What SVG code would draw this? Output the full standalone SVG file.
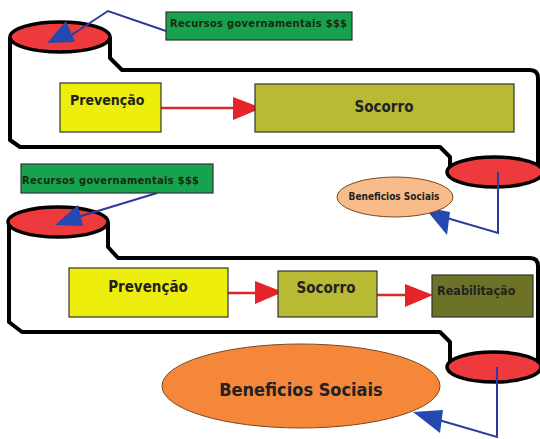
<svg xmlns="http://www.w3.org/2000/svg" width="540" height="439" viewBox="0 0 540 439">
<style>
.pipe{fill:none;stroke:#000;stroke-width:4;stroke-linejoin:round}
.tank{fill:#ee3a3c;stroke:#000;stroke-width:3.5}
.blue{fill:none;stroke:#2b3a9c;stroke-width:2}
.bhead{fill:#2449b0}
.red{fill:none;stroke:#d92a2a;stroke-width:2.5}
.rhead{fill:#e5242a}
.box{stroke:#333;stroke-width:1.2}
.t{font-family:"DejaVu Sans Condensed","DejaVu Sans",Verdana,sans-serif;font-weight:bold;fill:#222}
</style>
<rect width="540" height="439" fill="#fff"/>
<g id="connectors">
  <path class="pipe" d="M10,37 V140 L20,147 H440 L450,157 V172"/>
  <path class="pipe" d="M110,37 V58 L122,70 H530 Q538,70 538,78 V172"/>
  <path class="pipe" d="M9,222 V322 L22,332 H440 L450,342 V367"/>
  <path class="pipe" d="M108,222 V247 L118,258 H530 Q538,258 538,266 V367"/>
  <path class="red" d="M161,108 H236"/>
  <polygon class="rhead" points="233,97 262,108 233,120"/>
  <path class="red" d="M228,293 H258"/>
  <polygon class="rhead" points="255,281 283,292 255,304"/>
  <path class="red" d="M377,295 H408"/>
  <polygon class="rhead" points="405,284 433,295 405,307"/>
</g>
<g id="tank1"><ellipse class="tank" cx="60" cy="37" rx="50" ry="15"/></g>
<g id="tank2"><ellipse class="tank" cx="495" cy="172" rx="48" ry="15"/></g>
<g id="tank3"><ellipse class="tank" cx="58" cy="222" rx="50" ry="15"/></g>
<g id="tank4"><ellipse class="tank" cx="494" cy="367" rx="47" ry="15"/></g>
<g id="blue-arrows">
  <path class="blue" d="M166,31 L108,11 L70,36"/>
  <polygon class="bhead" points="66,21 47,43 75,42"/>
  <path class="blue" d="M498,172 V233 L440,216"/>
  <polygon class="bhead" points="424,207 450,212 447,235"/>
  <path class="blue" d="M157,193 L78,217"/>
  <polygon class="bhead" points="78,205 55,225 83,226"/>
  <path class="blue" d="M497,367 V437 L432,418"/>
  <polygon class="bhead" points="413,412 443,410 440,433"/>
</g>
<g id="recursos1">
  <rect class="box" x="166" y="12" width="186" height="28" fill="#16a24e"/>
  <text class="t" x="170" y="27" font-size="11" textLength="177" style="fill:#1a2a12">Recursos governamentais $$$</text>
</g>
<g id="prevencao1">
  <rect class="box" x="60" y="83" width="101" height="49" fill="#eeee0c"/>
  <text class="t" x="70" y="105" font-size="14">Prevenção</text>
</g>
<g id="socorro1">
  <rect class="box" x="255" y="84" width="259" height="48" fill="#b7ba32"/>
  <text class="t" x="384" y="112" font-size="15" text-anchor="middle">Socorro</text>
</g>
<g id="beneficios1">
  <ellipse cx="395" cy="197" rx="58" ry="20" fill="#f8bb8a" stroke="#7a4a22" stroke-width="1"/>
  <text class="t" x="394" y="200" font-size="10" text-anchor="middle">Beneficios Sociais</text>
</g>
<g id="recursos2">
  <rect class="box" x="21" y="164" width="192" height="29" fill="#16a24e"/>
  <text class="t" x="22" y="184" font-size="11" textLength="177" style="fill:#1a2a12">Recursos governamentais $$$</text>
</g>
<g id="prevencao2">
  <rect class="box" x="69" y="268" width="159" height="49" fill="#eeee0c"/>
  <text class="t" x="148" y="292" font-size="15" text-anchor="middle">Prevenção</text>
</g>
<g id="socorro2">
  <rect class="box" x="278" y="271" width="99" height="46" fill="#b7ba32"/>
  <text class="t" x="326" y="293" font-size="15" text-anchor="middle">Socorro</text>
</g>
<g id="reabilitacao">
  <rect class="box" x="432" y="275" width="101" height="42" fill="#6d7226"/>
  <text class="t" x="437" y="295" font-size="12.5">Reabilitação</text>
</g>
<g id="beneficios2">
  <ellipse cx="301" cy="386" rx="139" ry="42" fill="#f4873a" stroke="#7a4a22" stroke-width="1"/>
  <text class="t" x="301" y="396" font-size="18" text-anchor="middle">Beneficios Sociais</text>
</g>
</svg>
